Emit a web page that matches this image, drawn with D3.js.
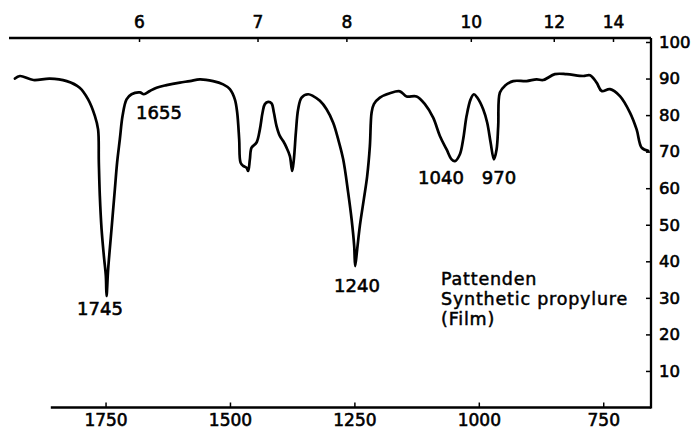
<!DOCTYPE html>
<html>
<head>
<meta charset="utf-8">
<script src="https://cdn.jsdelivr.net/npm/d3@7/dist/d3.min.js"></script>
<style>
  html, body { margin: 0; padding: 0; background: #fff; }
  svg { display: block; }
  text { font-family: "DejaVu Sans", sans-serif; fill: #000; }
</style>
</head>
<body>
<svg id="chart" width="691" height="430"></svg>
<script>
// ---- data (wavenumber in cm-1, transmittance in %) ----
const wavenumber = [1932,1922,1895,1862,1828,1802,1785,1771.5,1765,1763.5,1761.5,1758,1753.4,1749.4,1748,1744.8,1738,1731.3,1726.7,1721.3,1715.8,1707.8,1697.8,1681,1673,1661,1647.5,1627.4,1600.7,1580.6,1560.5,1533.8,1513.7,1500.2,1490.2,1485.5,1481.5,1478.7,1473.5,1466.7,1463.4,1460,1456.6,1446.6,1439.9,1434.5,1429.9,1423.2,1416.4,1411.8,1406.4,1399.8,1393.1,1386.3,1379.6,1375,1371.6,1367.6,1363,1356.1,1342.9,1332.8,1319.3,1305.9,1292.6,1282.6,1272.5,1262.5,1255.6,1250.4,1248.4,1244.4,1239,1231,1224.3,1218.9,1215.4,1210.8,1198.8,1178.7,1158.6,1145.1,1125,1108.3,1091.7,1078.2,1064.7,1054.7,1048,1038,1031.4,1024.5,1016.5,1009.9,1003.2,991.2,983.1,976.3,969.7,964.3,961,957.6,947.6,930.9,904,883.9,870.6,847.1,823.6,790.2,776.7,763.3,753.2,736.5,716.4,696.3,682.9,672.8,659.6];
const transmittance = [90.0,90.7,89.6,90.0,89.3,87.5,84.3,79.8,76.1,67.1,57.9,48.8,41.5,36.0,30.5,37.8,48.8,59.7,67.1,73.4,79.8,84.3,85.7,86.2,85.7,86.6,87.5,88.2,88.9,89.3,89.8,89.3,88.4,87.1,84.3,80.7,73.4,67.0,66.1,65.6,64.7,67.9,71.1,72.5,76.1,80.7,83.0,83.6,83.2,80.7,77.0,74.3,72.9,71.1,68.8,64.7,67.9,75.2,81.6,84.8,85.7,85.2,83.9,81.6,77.9,73.4,67.9,58.8,51.5,44.2,38.7,43.3,49.7,57.0,63.3,71.5,80.7,83.0,84.8,86.0,86.5,85.1,85.1,83.0,79.3,74.3,70.6,67.9,67.4,69.3,73.4,79.8,84.3,85.7,84.8,81.6,77.9,72.5,67.9,70.6,77.0,86.2,88.0,89.3,89.3,89.8,89.6,91.2,91.2,90.7,90.9,88.9,86.6,87.1,85.2,80.7,76.1,71.1,70.2];

const bottomTicks = [1750, 1500, 1250, 1000, 750];          // cm-1
const topTicks = [6, 7, 8, 10, 12, 14];                     // micrometres
const rightTicks = [10, 20, 30, 40, 50, 60, 70, 80, 90, 100]; // %

const peakLabels = ["1745", "1655", "1240", "1040", "970"];
const noteLines = ["Pattenden", "Synthetic propylure", "(Film)"];

// ---- layout ----
const svg = d3.select("#chart");
const x = d3.scaleLinear().domain([1944, 654]).range([9, 651]);
const y = d3.scaleLinear().domain([0, 100]).range([407.5, 42]);
const xTop = d3.scaleLinear().domain(x.domain()).range(x.range().map(r => r - 8));
const bottomStart = 1860;
const topY = y(101.1);

// frame lines
svg.append("line")
  .attr("x1", x(x.domain()[0])).attr("x2", x(x.domain()[1]))
  .attr("y1", topY).attr("y2", topY)
  .attr("stroke", "#000").attr("stroke-width", 2.3);
svg.append("line")
  .attr("x1", x(bottomStart)).attr("x2", x(x.domain()[1]))
  .attr("y1", y(0)).attr("y2", y(0))
  .attr("stroke", "#000").attr("stroke-width", 2.3);
svg.append("line")
  .attr("x1", x(x.domain()[1])).attr("x2", x(x.domain()[1]))
  .attr("y1", topY).attr("y2", y(0) + 1)
  .attr("stroke", "#000").attr("stroke-width", 2.3);

// bottom axis
const gB = svg.append("g").attr("transform", `translate(0,${y(0)})`)
  .call(d3.axisBottom(x).tickValues(bottomTicks).tickSize(-5).tickPadding(6).tickFormat(d3.format("d")));
// top axis (wavelength)
const gT = svg.append("g").attr("transform", `translate(0,${topY})`)
  .call(d3.axisTop(xTop).tickValues(topTicks.map(l => 10000 / l)).tickSize(-4).tickPadding(10)
    .tickFormat(d => String(Math.round(10000 / d))));
// right axis
const gR = svg.append("g").attr("transform", `translate(${x(x.domain()[1])},0)`)
  .call(d3.axisRight(y).tickValues(rightTicks).tickSize(-5).tickPadding(8));

[gB, gT, gR].forEach(g => {
  g.select(".domain").remove();
  g.selectAll(".tick line").attr("stroke", "#000").attr("stroke-width", 1.5);
  g.selectAll(".tick text").attr("font-family", "DejaVu Sans, sans-serif")
    .attr("font-size", 17).attr("fill", "#000")
    .attr("stroke", "#000").attr("stroke-width", 0.6);
});
gR.selectAll(".tick text").attr("font-size", 16.5);

// spectrum
const pts = wavenumber.map((w, i) => [w, transmittance[i]]);
svg.append("path")
  .datum(pts)
  .attr("fill", "none")
  .attr("stroke", "#000")
  .attr("stroke-width", 2.7)
  .attr("stroke-linejoin", "round")
  .attr("stroke-linecap", "round")
  .attr("d", d3.line().x(d => x(d[0])).y(d => y(d[1])).curve(d3.curveCatmullRom.alpha(0.5)));

// peak labels (centre x, baseline y)
const peakPos = [[100, 315], [159, 119], [357, 292], [441, 184], [499, 184]];
svg.selectAll("text.peak").data(peakLabels).enter().append("text")
  .attr("class", "peak")
  .attr("x", (d, i) => peakPos[i][0]).attr("y", (d, i) => peakPos[i][1])
  .attr("text-anchor", "middle")
  .attr("font-size", 18)
  .attr("stroke", "#000").attr("stroke-width", 0.6)
  .text(d => d);

// note
svg.selectAll("text.note").data(noteLines).enter().append("text")
  .attr("class", "note")
  .attr("x", 441).attr("y", (d, i) => 285 + i * 20)
  .attr("font-size", 17.5)
  .attr("letter-spacing", 0.8)
  .attr("stroke", "#000").attr("stroke-width", 0.5)
  .text(d => d);
</script>
</body>
</html>
